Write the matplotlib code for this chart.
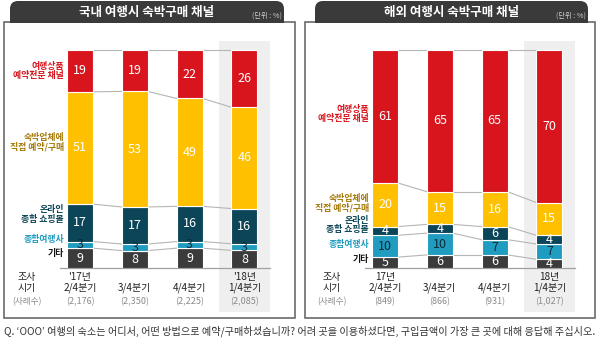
import matplotlib.pyplot as plt
from matplotlib.patches import FancyBboxPatch, Rectangle
import numpy as np

plt.rcParams['font.family'] = ['Noto Sans CJK KR', 'DejaVu Sans']

# data
seg_names = ["기타", "종합여행사", "온라인\n종합 쇼핑몰", "숙박업체에\n직접 예약/구매", "여행상품\n예약전문 채널"]
seg_colors = ["#3b3b3b", "#1f9cc0", "#0c4557", "#ffc000", "#d8151d"]
name_colors = ["#111111", "#1f9cc0", "#0c4557", "#a57a08", "#d8151d"]
num_colors = ["white", "#0d2a38", "white", "white", "white"]

dom_title = "국내 여행시 숙박구매 채널"
dom_years = ["'17년", "", "", "'18년"]
dom_quarters = ["2/4분기", "3/4분기", "4/4분기", "1/4분기"]
dom_counts = ["(2,176)", "(2,350)", "(2,225)", "(2,085)"]
dom_values = [
    [9, 8, 9, 8],       # 기타
    [3, 3, 3, 3],       # 종합여행사
    [17, 17, 16, 16],   # 온라인 종합 쇼핑몰
    [51, 53, 49, 46],   # 숙박업체 직접
    [19, 19, 22, 26],   # 여행상품 예약전문
]

ovs_title = "해외 여행시 숙박구매 채널"
ovs_years = ["17년", "", "", "18년"]
ovs_quarters = ["2/4분기", "3/4분기", "4/4분기", "1/4분기"]
ovs_counts = ["(849)", "(866)", "(931)", "(1,027)"]
ovs_values = [
    [5, 6, 6, 4],
    [10, 10, 7, 7],
    [4, 4, 6, 4],
    [20, 15, 16, 15],
    [61, 65, 65, 70],
]

question = "Q. ‘OOO’ 여행의 숙소는 어디서, 어떤 방법으로 예약/구매하셨습니까? 어려 곳을 이용하셨다면, 구입금액이 가장 큰 곳에 대해 응답해 주십시오."

W, H = 600, 345
fig = plt.figure(figsize=(6, 3.45), dpi=100)
fig.patch.set_facecolor("white")

# overlay axes in pixel coords for frames
bg = fig.add_axes([0, 0, 1, 1])
bg.set_xlim(0, W)
bg.set_ylim(H, 0)
bg.axis("off")

for x0, x1, tx0, tx1, title in [(4, 295, 10, 284, dom_title), (305, 595, 315, 588, ovs_title)]:
    bg.add_patch(Rectangle((x0, 22), x1 - x0, 296, fill=False, ec="#6a6a6a", lw=1.2))
    bg.add_patch(FancyBboxPatch((tx0, 1), tx1 - tx0, 21.5,
                                boxstyle="round,pad=0,rounding_size=8",
                                fc="#3a3a3a", ec="none"))
    bg.add_patch(Rectangle((tx0, 12), tx1 - tx0, 10.5, fc="#3a3a3a", ec="none"))
    bg.text((tx0 + tx1) / 2, 12.5, title, color="white", fontsize=9,
            fontweight="bold", ha="center", va="center")
    bg.text(tx1 - 2, 15.5, "(단위 : %)", color="#d0d0d0", fontsize=5.2,
            ha="right", va="center")

bg.text(W / 2, 331, question, fontsize=7.3, color="#333333", ha="center", va="center")

spacing = 54.8
bar_w = 26 / spacing
y_top, y_bot = 50, 268


def panel(px0, values, years, quarters, counts, label_dy):
    cx0 = px0 + 80
    ax = fig.add_axes([px0 / W, (H - y_bot) / H, 300 / W, (y_bot - y_top) / H])
    ax.set_xlim((px0 - cx0) / spacing, (px0 + 300 - cx0) / spacing)
    ax.set_ylim(0, 100)
    ax.axis("off")
    ax.patch.set_alpha(0)

    def py(p):
        return (y_bot - p) / (y_bot - y_top) * 100

    def px(p):
        return (p - cx0) / spacing

    x = np.arange(4)
    vals = np.array(values, dtype=float)
    totals = vals.sum(axis=0)
    scaled = vals / totals * 100

    # highlight of latest quarter
    ax.add_patch(Rectangle((3 - 0.465, py(312)), 0.93, py(41) - py(312),
                           fc="#efefef", ec="none", clip_on=False, zorder=0))

    bottoms = np.zeros(4)
    for k in range(len(vals)):
        ax.bar(x, scaled[k], bar_w, bottom=bottoms, color=seg_colors[k],
               edgecolor="white", linewidth=0.8, zorder=3)
        for i in range(4):
            ax.text(x[i], bottoms[i] + scaled[k][i] / 2, f"{int(vals[k][i])}",
                    color=num_colors[k], fontsize=9, ha="center", va="center",
                    zorder=4)
        # side label, aligned with first bar segment
        ax.annotate(seg_names[k], (px(cx0 - 16), bottoms[0] + scaled[k][0] / 2),
                    xytext=(0, label_dy[k]), textcoords="offset points",
                    color=name_colors[k], fontsize=6.4, fontweight="bold",
                    ha="right", va="center", linespacing=1.0,
                    annotation_clip=False, zorder=5)
        bottoms = bottoms + scaled[k]
        # connector lines
        for i in range(3):
            ax.plot([x[i] + bar_w / 2, x[i + 1] - bar_w / 2],
                    [bottoms[i], bottoms[i + 1]], color="#b5b5b5", lw=0.8,
                    zorder=2, clip_on=False)

    ax.plot([px(cx0 - 20), px(cx0 + 190)], [0, 0], color="#a0a0a0", lw=0.9,
            zorder=2, clip_on=False)

    for i in range(4):
        ax.text(x[i], py(277), years[i], fontsize=7.2, color="#222222",
                ha="center", va="center")
        ax.text(x[i], py(288), quarters[i], fontsize=7.2, color="#222222",
                ha="center", va="center")
        ax.text(x[i], py(302), counts[i], fontsize=6.5, color="#8a8a8a",
                ha="center", va="center")
    lx = px(px0 + 27)
    ax.text(lx, py(277), "조사", fontsize=7.2, color="#222222", ha="center", va="center")
    ax.text(lx, py(288), "시기", fontsize=7.2, color="#222222", ha="center", va="center")
    ax.text(lx, py(302), "(사례수)", fontsize=6.2, color="#8a8a8a", ha="center", va="center")


panel(0, dom_values, dom_years, dom_quarters, dom_counts, [3.5, 4, 6, 4, 0])
panel(305, ovs_values, ovs_years, ovs_quarters, ovs_counts, [2.5, 1, 4, 1, 2])

fig.savefig("out.png", dpi=100)
